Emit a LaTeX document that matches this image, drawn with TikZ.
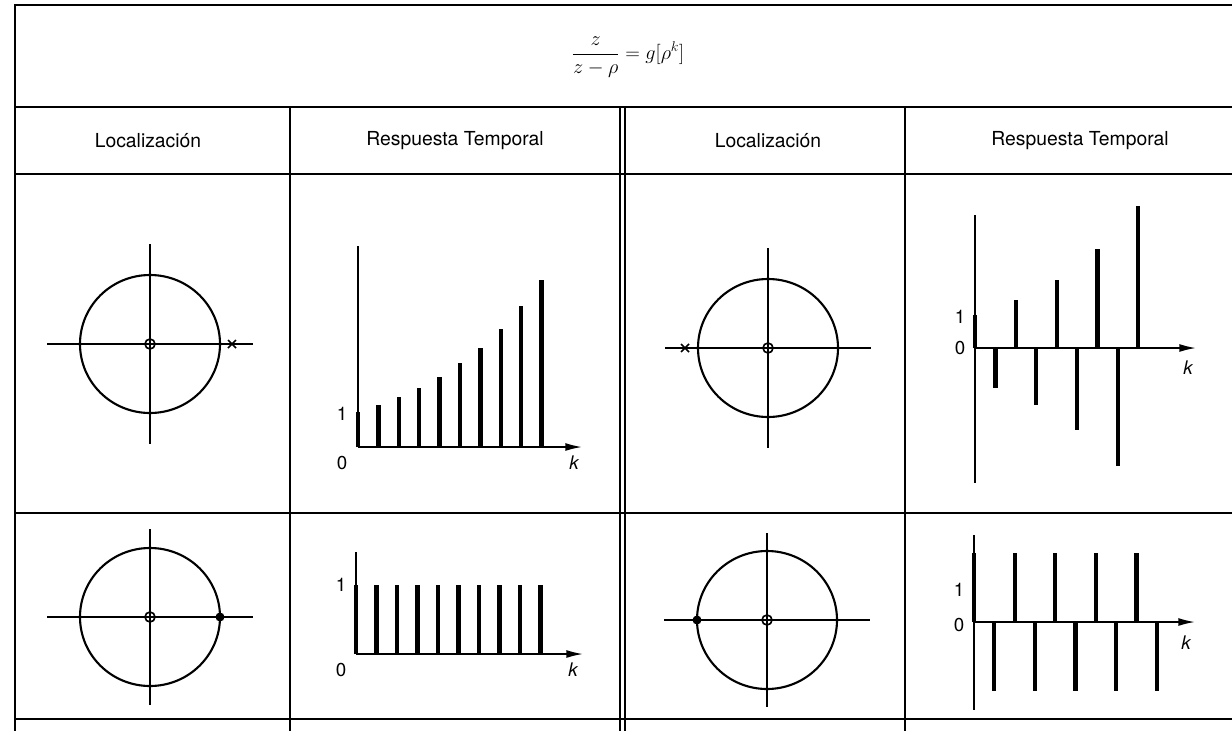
\documentclass[tikz,border=0pt]{standalone}
\usepackage{amsmath}
\usepackage{fontspec}
\setsansfont{TeX Gyre Heros}
\usetikzlibrary{arrows.meta,positioning}
\begin{document}
\begin{tikzpicture}[x=0.03cm, y=-0.03cm,
    rule/.style={line width=1.6pt},
    hdr/.style={font=\fontsize{16.5}{19}\sffamily, inner sep=0pt},
    lbl/.style={font=\fontsize{16}{19}\sffamily, inner sep=0pt},
    klbl/.style={font=\fontsize{16}{19}\sffamily\itshape, inner sep=0pt},
    unitc/.style={line width=1.8pt},
    ax/.style={line width=1.4pt},
    stem/.style={line width=3.6pt},
    >={Latex[length=5mm,width=2.4mm]}
  ]
  \useasboundingbox (0,0) rectangle (1232,731);

  % table rules
  \draw[rule] (15,731) -- (15,5) -- (1232,5);
  \foreach \ry in {107,174,513,719}
    \draw[rule] (15,\ry) -- (1232,\ry);
  \foreach \cx in {290,620,625,905}
    \draw[rule] (\cx,107) -- (\cx,731);

  % title
  \node[font=\fontsize{17.28}{20}\selectfont, inner sep=0pt] (title) at (628,57)
    {$\dfrac{z}{z-\rho} = g[\rho^k]$};

  % column heads
  \node[hdr] (locA) at (148,141) {Localización};
  \node[hdr] (resA) at (455,141) {Respuesta Temporal};
  \node[hdr] (locB) at (768,141) {Localización};
  \node[hdr] (resB) at (1080,141) {Respuesta Temporal};

  % unit circles
  \foreach \px/\py/\vy in {150/344/100, 768/348/100, 150/617/88, 767/620/87} {
    \draw[ax] (\px-103,\py) -- (\px+103,\py);
    \draw[ax] (\px,\py-\vy) -- (\px,\py+\vy);
    \draw[unitc] (\px,\py) ellipse (70 and 69);
    \draw[ax] (\px,\py) circle (5);
  }

  % poles
  \draw[ax] (228,340) -- (236,348) (228,348) -- (236,340);
  \draw[ax] (681,344) -- (689,352) (681,352) -- (689,344);
  \fill (220,617) circle (4.5);
  \fill (697,620) circle (4.5);

  % growing response, p > 1
  \begin{scope}[shift={(358,447)}]
    \draw[ax] (0,-201) -- (0,0);
    \draw[ax,->] (0,0) -- (224,0);
    \foreach \n in {0,...,9}
      \draw[stem] (20.4*\n,0) -- (20.4*\n,{-35*1.19^\n});
    \node[lbl] (oneA) at (-16,-33) {1};
    \node[lbl] (zeroA) at (-16,16) {0};
    \node[klbl] (kA) at (216,16) {k};
  \end{scope}

  % alternating growing response, p < -1
  \begin{scope}[shift={(975,348)}]
    \draw[ax] (0,-133) -- (0,135);
    \draw[ax,->] (0,0) -- (221,0);
    \foreach \n in {0,...,8}
      \draw[stem] (20.4*\n,0) -- (20.4*\n,{-33*(-1.2)^\n});
    \node[lbl] (oneB) at (-15,-31) {1};
    \node[lbl] (zeroB) at (-15,0) {0};
    \node[klbl] (kB) at (213,20) {k};
  \end{scope}

  % constant response, p = 1
  \begin{scope}[shift={(356,654)}]
    \draw[ax] (0,-102) -- (0,0);
    \draw[ax,->] (0,0) -- (227,0);
    \foreach \n in {0,...,9}
      \draw[stem] (20.5*\n,0) -- (20.5*\n,-69);
    \node[lbl] (oneC) at (-15,-69) {1};
    \node[lbl] (zeroC) at (-15,16) {0};
    \node[klbl] (kC) at (217,16) {k};
  \end{scope}

  % alternating response, p = -1
  \begin{scope}[shift={(974,622)}]
    \draw[ax] (0,-87) -- (0,88);
    \draw[ax,->] (0,0) -- (221,0);
    \foreach \n in {0,...,9}
      \draw[stem] (20.3*\n,0) -- (20.3*\n,{-69*(-1)^\n});
    \node[lbl] (oneD) at (-15,-32) {1};
    \node[lbl] (zeroD) at (-15,3) {0};
    \node[klbl] (kD) at (212,21) {k};
  \end{scope}
\end{tikzpicture}
\end{document}
